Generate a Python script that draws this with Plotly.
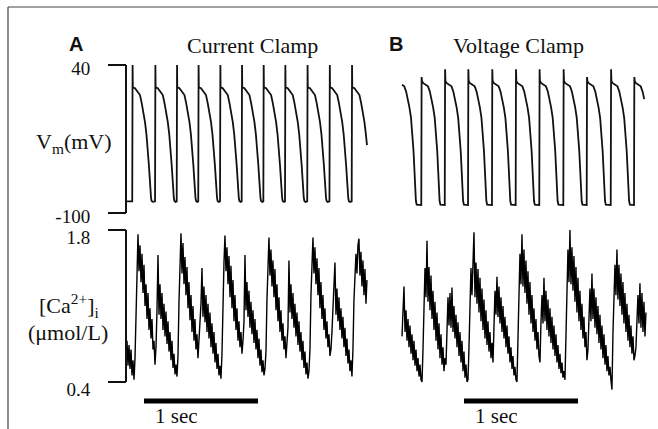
import numpy as np
import plotly.graph_objects as go

# ---------------- data ----------------
# Membrane potential: one action-potential waveform per panel (time after upstroke, s / mV)
A_AP_DT = [0, 0.003, 0.005, 0.024, 0.044, 0.068, 0.083, 0.096, 0.112, 0.125,
           0.137, 0.146, 0.154, 0.158, 0.165, 0.170, 0.180]
A_AP_TAIL_MV = [19, 18, 15.5, 11.6, 4, -3.5, -14, -26, -39, -54.6, -68, -79, -86, -88.7, -89.5]
A_REST_MV = -89
A_ONSETS_S = [0.046, 0.246, 0.436, 0.625, 0.816, 1.006, 1.196, 1.386, 1.581, 1.776, 1.971]
A_PEAKS_MV = [40, 40, 40, 40, 40, 40, 40, 40, 40, 40, 40]
A_END_S = 2.105

B_AP_DT = [0, 0.003, 0.006, 0.015, 0.035, 0.059, 0.075, 0.088, 0.104, 0.118,
           0.130, 0.140, 0.147, 0.153, 0.158, 0.161, 0.168]
B_AP_TAIL_MV = [25, 23, 21.5, 19.8, 15, 8.8, 0, -10, -24, -41.4, -57, -73.5, -83, -88.7, -92.2]
B_REST_MV = -92.5
B_ONSETS_S = [-0.039, 0.169, 0.375, 0.579, 0.789, 0.997, 1.204, 1.415, 1.620, 1.831, 2.035]
B_PEAKS_MV = [36, 28.6, 36, 36, 36, 36, 36, 36, 28.6, 36, 28.6]
B_END_S = 2.125

# Intracellular calcium (noisy recording), one sample every CA_DT_S seconds (umol/L)
CA_DT_S = 0.00877
CA_A = [
    0.78, 0.55, 0.74, 0.52, 0.70, 0.46, 0.60, 0.42,
    0.62, 1.12, 1.50, 1.76, 1.42, 1.66, 1.32, 1.58, 1.22, 1.48, 1.10, 1.30, 0.98, 1.22, 0.88, 1.08,
    0.80, 0.98, 0.70, 0.78, 0.56,
    0.72, 1.06, 1.57, 1.02, 1.30, 0.98, 1.22, 0.88, 1.12, 0.82, 1.05, 0.75, 0.96, 0.68, 0.86, 0.60,
    0.78, 0.53, 0.66, 0.47, 0.56, 0.45,
    0.64, 1.14, 1.52, 1.77, 1.40, 1.68, 1.30, 1.55, 1.20, 1.46, 1.08, 1.32, 0.97, 1.20, 0.86, 1.10,
    0.78, 0.98, 0.70, 0.84, 0.62, 0.76,
    0.88, 1.12, 1.45, 1.00, 1.28, 0.95, 1.20, 0.86, 1.12, 0.80, 1.04, 0.72, 0.94, 0.66, 0.86, 0.58,
    0.76, 0.52, 0.66, 0.46, 0.55, 0.43,
    0.66, 1.15, 1.50, 1.75, 1.42, 1.64, 1.30, 1.56, 1.18, 1.47, 1.08, 1.34, 0.96, 1.20, 0.88, 1.08,
    0.78, 0.96, 0.72, 0.86, 0.66, 0.78,
    0.95, 1.57, 1.06, 1.32, 1.00, 1.24, 0.90, 1.14, 0.84, 1.06, 0.76, 0.98, 0.70, 0.88, 0.62, 0.80,
    0.55, 0.70, 0.49, 0.60, 0.46, 0.52,
    0.68, 1.16, 1.48, 1.73, 1.38, 1.62, 1.28, 1.52, 1.18, 1.44, 1.06, 1.30, 0.96, 1.18, 0.86, 1.06,
    0.78, 0.94, 0.70, 0.82, 0.62, 0.74,
    0.90, 1.52, 1.04, 1.30, 0.98, 1.22, 0.90, 1.12, 0.82, 1.04, 0.74, 0.96, 0.68, 0.86, 0.60, 0.78,
    0.53, 0.68, 0.47, 0.58, 0.43, 0.50,
    0.70, 1.20, 1.50, 1.73, 1.40, 1.64, 1.30, 1.54, 1.20, 1.45, 1.08, 1.32, 0.98, 1.20, 0.88, 1.08,
    0.80, 0.96, 0.72, 0.84, 0.64, 0.70,
    0.86, 1.10, 1.28, 1.50, 1.02, 1.26, 0.96, 1.18, 0.88, 1.08, 0.80, 1.00, 0.72, 0.90, 0.64, 0.80,
    0.57, 0.70, 0.50, 0.60, 0.45,
    0.70, 1.15, 1.40, 1.58, 1.40, 1.66, 1.72, 1.38, 1.60, 1.28, 1.52, 1.20, 1.44, 1.12, 1.34,
]
CA_B = [
    0.82, 1.08, 1.28, 0.86, 1.06, 0.78, 0.98, 0.72, 0.92, 0.66, 0.84, 0.60, 0.78, 0.55, 0.70, 0.50,
    0.62, 0.45, 0.56, 0.42, 0.40,
    0.70, 1.05, 1.45, 1.18, 1.70, 1.14, 1.46, 1.06, 1.38, 0.98, 1.24, 0.88, 1.14, 0.78, 1.04, 0.70,
    0.94, 0.62, 0.84, 0.56, 0.72, 0.50, 0.62, 0.56,
    0.92, 1.18, 0.92, 1.22, 0.90, 1.27, 0.86, 1.10, 0.80, 1.02, 0.72, 0.95, 0.64, 0.86, 0.58, 0.78,
    0.50, 0.68, 0.44, 0.56, 0.40, 0.42,
    0.72, 1.10, 1.45, 1.20, 1.55, 1.78, 1.18, 1.50, 1.12, 1.44, 1.04, 1.36, 0.96, 1.26, 0.88, 1.16,
    0.80, 1.06, 0.74, 0.96, 0.68, 0.86, 0.62, 0.76, 0.58,
    0.92, 1.24, 1.02, 1.37, 1.00, 1.28, 0.94, 1.18, 0.86, 1.10, 0.80, 1.00, 0.72, 0.92, 0.66, 0.82,
    0.58, 0.72, 0.52, 0.64, 0.46, 0.54, 0.42, 0.40,
    0.80, 1.25, 1.58, 1.30, 1.76, 1.28, 1.62, 1.22, 1.52, 1.12, 1.42, 1.02, 1.32, 0.94, 1.20, 0.86,
    1.08, 0.78, 0.98, 0.70, 0.86, 0.64, 0.58,
    0.95, 1.20, 0.94, 1.36, 0.96, 1.24, 0.88, 1.16, 0.82, 1.08, 0.76, 1.00, 0.70, 0.92, 0.64, 0.84,
    0.58, 0.74, 0.52, 0.66, 0.48, 0.58, 0.44, 0.50, 0.42,
    0.90, 1.35, 1.62, 1.32, 1.80, 1.30, 1.64, 1.24, 1.56, 1.14, 1.46, 1.04, 1.36, 0.96, 1.24, 0.88,
    1.12, 0.80, 1.00, 0.72, 0.86, 0.60, 0.70,
    0.98, 1.26, 0.96, 1.40, 0.98, 1.26, 0.90, 1.18, 0.84, 1.10, 0.76, 1.02, 0.70, 0.92, 0.62, 0.84,
    0.56, 0.74, 0.50, 0.64, 0.46, 0.54, 0.42, 0.33,
    0.85, 1.22, 1.48, 1.20, 1.62, 1.16, 1.48, 1.10, 1.40, 1.02, 1.32, 0.94, 1.22, 0.86, 1.12, 0.78,
    1.02, 0.72, 0.92, 0.66, 0.82, 0.60, 0.64, 0.72,
    0.98, 1.20, 0.94, 1.31, 0.90, 1.22, 0.86, 1.14, 0.82, 1.04,
]

VM_TICKS = [-100, 40]
CA_TICKS = [0.4, 1.8]
SCALE_BAR_S = 1.0

# ---------------- layout geometry (pixels) ----------------
W, H = 658, 429
PX_PER_S = 114.0
A_X0_PX, B_X0_PX = 127, 402          # pixel of t = 0 in each panel
AXIS_X_PX = 126
VM_PX = {40: 65, -100: 213}
CA_PX = {1.8: 230, 0.4: 382}


def yrange(pxmap):
    (v1, p1), (v2, p2) = sorted(pxmap.items(), key=lambda kv: kv[1])
    slope = (v2 - v1) / (p2 - p1)
    return [v1 + (H - p1) * slope, v1 - p1 * slope]


def xrange(x0px):
    return [-x0px / PX_PER_S, (W - x0px) / PX_PER_S]


def beat_train(onsets, peaks, rest, dts, tail, t_end):
    t, v = [-1.0], [rest]
    for on, pk in zip(onsets, peaks):
        t += [on + d for d in dts]
        v += [rest, pk] + tail
    t.append(t_end + 1)
    v.append(rest)
    inner = [x for x in t if 0 < x < t_end]
    tt = [0.0] + inner + [t_end]
    return tt, list(np.interp(tt, t, v))


ta, va = beat_train(A_ONSETS_S, A_PEAKS_MV, A_REST_MV, A_AP_DT, A_AP_TAIL_MV, A_END_S)
tb, vb = beat_train(B_ONSETS_S, B_PEAKS_MV, B_REST_MV, B_AP_DT, B_AP_TAIL_MV, B_END_S)
tca_a = [i * CA_DT_S for i in range(len(CA_A))]
tca_b = [i * CA_DT_S for i in range(len(CA_B))]

INK = "#111111"
fig = go.Figure()
fig.add_trace(go.Scatter(x=ta, y=va, xaxis="x", yaxis="y", mode="lines",
                         line=dict(color=INK, width=1.8), hoverinfo="skip"))
fig.add_trace(go.Scatter(x=tb, y=vb, xaxis="x2", yaxis="y", mode="lines",
                         line=dict(color=INK, width=1.8), hoverinfo="skip"))
fig.add_trace(go.Scatter(x=tca_a, y=CA_A, xaxis="x", yaxis="y2", mode="lines",
                         line=dict(color="black", width=1.4), hoverinfo="skip"))
fig.add_trace(go.Scatter(x=tca_b, y=CA_B, xaxis="x2", yaxis="y2", mode="lines",
                         line=dict(color="black", width=1.4), hoverinfo="skip"))

serif = "Liberation Serif, Times New Roman, serif"
tickfont = dict(family=serif, size=19, color=INK)
axis_common = dict(anchor="free", position=AXIS_X_PX / W, domain=[0, 1],
                   showgrid=False, zeroline=False, showline=False,
                   ticks="outside", ticklen=18, tickwidth=2, tickcolor=INK,
                   tickfont=tickfont, ticklabelstandoff=14, fixedrange=True)

fig.update_layout(
    width=W, height=H, margin=dict(l=0, r=0, t=0, b=0),
    paper_bgcolor="white", plot_bgcolor="rgba(0,0,0,0)", showlegend=False,
    xaxis=dict(domain=[0, 1], range=xrange(A_X0_PX), visible=False, fixedrange=True),
    xaxis2=dict(domain=[0, 1], range=xrange(B_X0_PX), visible=False, fixedrange=True,
                anchor="y", overlaying="x"),
    yaxis=dict(range=yrange(VM_PX), tickvals=VM_TICKS, ticktext=["-100", "40"],
               ticklabelshift=3, **axis_common),
    yaxis2=dict(range=yrange(CA_PX), tickvals=CA_TICKS, ticktext=["0.4", "1.8"],
                ticklabelshift=7, overlaying="y", **axis_common),
)

ax_x = AXIS_X_PX / W
shapes = [
    # axis brackets
    dict(type="line", xref="paper", yref="y", x0=ax_x, x1=ax_x, y0=VM_TICKS[0], y1=VM_TICKS[1],
         line=dict(color=INK, width=2)),
    dict(type="line", xref="paper", yref="y2", x0=ax_x, x1=ax_x, y0=CA_TICKS[0], y1=CA_TICKS[1],
         line=dict(color=INK, width=2)),
    # scale bars (1 s)
    dict(type="line", xref="x", yref="paper", x0=0.149, x1=0.149 + SCALE_BAR_S,
         y0=1 - 401 / H, y1=1 - 401 / H, line=dict(color="black", width=5)),
    dict(type="line", xref="x2", yref="paper", x0=0.544, x1=0.544 + SCALE_BAR_S,
         y0=1 - 401 / H, y1=1 - 401 / H, line=dict(color="black", width=5)),
    # frame
    dict(type="line", xref="paper", yref="paper", x0=8 / W, x1=1, y0=1 - 7 / H, y1=1 - 7 / H,
         line=dict(color="#444444", width=1.2)),
    dict(type="line", xref="paper", yref="paper", x0=8 / W, x1=8 / W, y0=0, y1=1 - 7 / H,
         line=dict(color="#444444", width=1.2)),
]
fig.update_layout(shapes=shapes)


def note(text, xpx, ypx, size=22, family=serif, anchor="center"):
    return dict(text=text, xref="paper", yref="paper", x=xpx / W, y=1 - ypx / H,
                xanchor=anchor, yanchor="middle", showarrow=False, borderpad=0,
                font=dict(family=family, size=size, color=INK))


sans = "Liberation Sans, Arial, sans-serif"
fig.update_layout(annotations=[
    note("<b>A</b>", 75.5, 44, size=20, family=sans),
    note("<b>B</b>", 396, 44, size=20, family=sans),
    note("Current Clamp", 252.5, 45),
    note("Voltage Clamp", 518.5, 45),
    note("V<sub>m</sub>(mV)", 73.5, 143),
    note("[Ca<sup>2+</sup>]<sub>i</sub>", 69, 305),
    note("(μmol/L)", 67.5, 332),
    note("1 sec", 154, 416, size=21, anchor="left"),
    note("1 sec", 474, 416, size=21, anchor="left"),
])

fig.write_html("out.html")
